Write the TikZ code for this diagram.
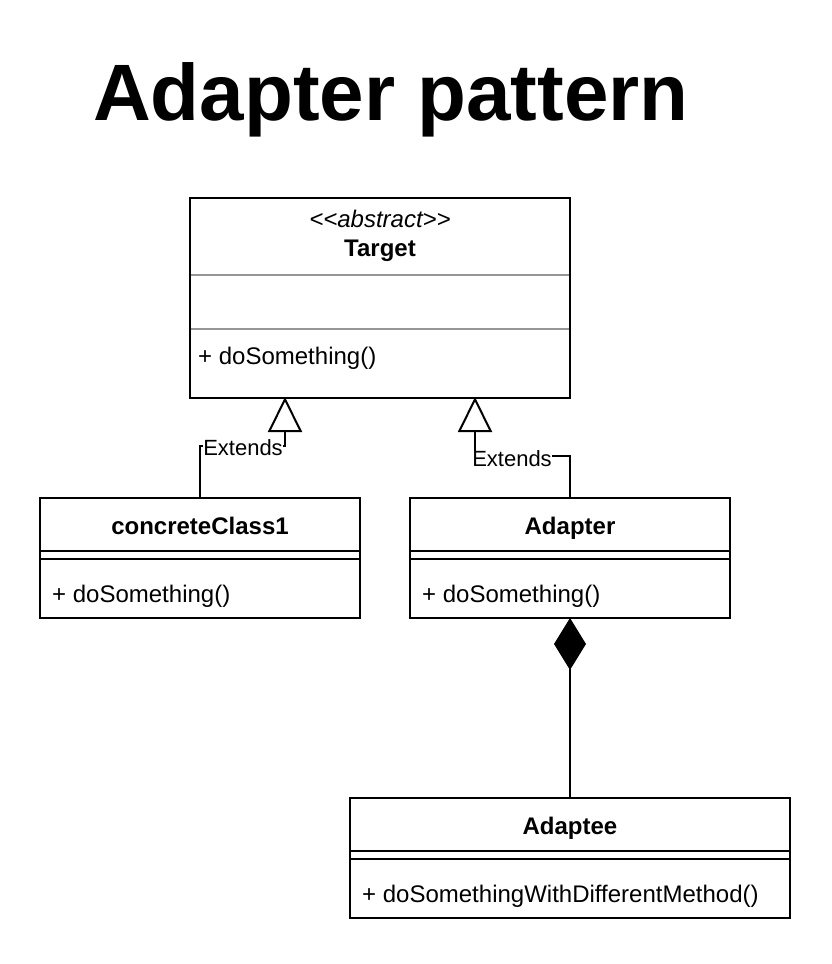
\documentclass[tikz,border=0pt]{standalone}
\usepackage{fontspec}
\setmainfont{Liberation Sans}
\usetikzlibrary{arrows.meta,calc}
\begin{document}
\begin{tikzpicture}[x=1pt,y=-1pt]
\tikzset{
  box/.style={draw, line width=2pt, anchor=north west, inner sep=0pt, outer sep=0pt},
  conn/.style={line width=2pt},
  sepgray/.style={line width=2pt, draw={rgb,255:red,150;green,150;blue,150}},
  sepblack/.style={line width=2pt},
  bodytext/.style={font=\fontsize{24}{29}\selectfont, inner sep=0pt, anchor=base west},
  titletext/.style={font=\bfseries\fontsize{24}{29}\selectfont, inner sep=0pt, anchor=base},
  lbl/.style={font=\fontsize{22}{26}\selectfont, inner sep=0pt, fill=white},
  gen/.style={conn, -{Triangle[open, width=34pt, length=35pt, line width=2pt]}},
  comp/.style={conn, {Diamond[width=32pt, length=52pt]}-}
}
\useasboundingbox (0,0) rectangle (832,964);
\fill[white] (0,0) rectangle (832,964);

% title
\node[font=\bfseries\fontsize{80}{96}\selectfont, inner sep=0pt, anchor=base] (title) at (391,120) {Adapter pattern};

% boxes
\node[box, minimum width=380pt, minimum height=200pt] (target) at (190,198) {};
\node[box, minimum width=320pt, minimum height=120pt] (c1) at (40,498) {};
\node[box, minimum width=320pt, minimum height=120pt] (adapter) at (410,498) {};
\node[box, minimum width=440pt, minimum height=120pt] (adaptee) at (350,798) {};

% target contents
\draw[sepgray] ([xshift=1pt]target.west |- 0,275) -- ([xshift=-1pt]target.east |- 0,275);
\draw[sepgray] ([xshift=1pt]target.west |- 0,329) -- ([xshift=-1pt]target.east |- 0,329);
\node[font=\itshape\fontsize{24}{29}\selectfont, inner sep=0pt, anchor=base] (stereo) at (380,227) {<\kern0pt<abstract>\kern0pt>};
\node[titletext] (tname) at (380,256) {Target};
\node[bodytext] (tm) at (198,364) {+ doSomething()};

% concreteClass1
\draw[sepblack] (c1.west |- 0,551) -- (c1.east |- 0,551);
\draw[sepblack] (c1.west |- 0,559) -- (c1.east |- 0,559);
\node[titletext] (c1name) at (200,534) {concreteClass1};
\node[bodytext] (c1m) at (52,602) {+ doSomething()};

% Adapter
\draw[sepblack] (adapter.west |- 0,551) -- (adapter.east |- 0,551);
\draw[sepblack] (adapter.west |- 0,559) -- (adapter.east |- 0,559);
\node[titletext] (adname) at (570,534) {Adapter};
\node[bodytext] (adm) at (422,602) {+ doSomething()};

% Adaptee
\draw[sepblack] (adaptee.west |- 0,851) -- (adaptee.east |- 0,851);
\draw[sepblack] (adaptee.west |- 0,859) -- (adaptee.east |- 0,859);
\node[titletext] (aename) at (570,834) {Adaptee};
\node[bodytext] (aem) at (362,902) {+ doSomethingWithDifferentMethod()};

% connectors
\coordinate (t1) at ($(target.south west)!0.25!(target.south east)+(0,-1)$);
\coordinate (t2) at ($(target.south west)!0.75!(target.south east)+(0,-1)$);
\coordinate (b1) at ($(t1)+(0,49)$);
\coordinate (b2) at ($(t2)+(0,59)$);
\draw[gen] (c1.north) |- (b1) -- (t1);
\node[lbl] (ext1) at (243,448) {Extends};
\draw[gen] (adapter.north) |- (b2) -- (t2);
\node[lbl] (ext2) at (512,459) {Extends};
\draw[comp] (adapter.south) -- (adaptee.north);
\end{tikzpicture}
\end{document}
